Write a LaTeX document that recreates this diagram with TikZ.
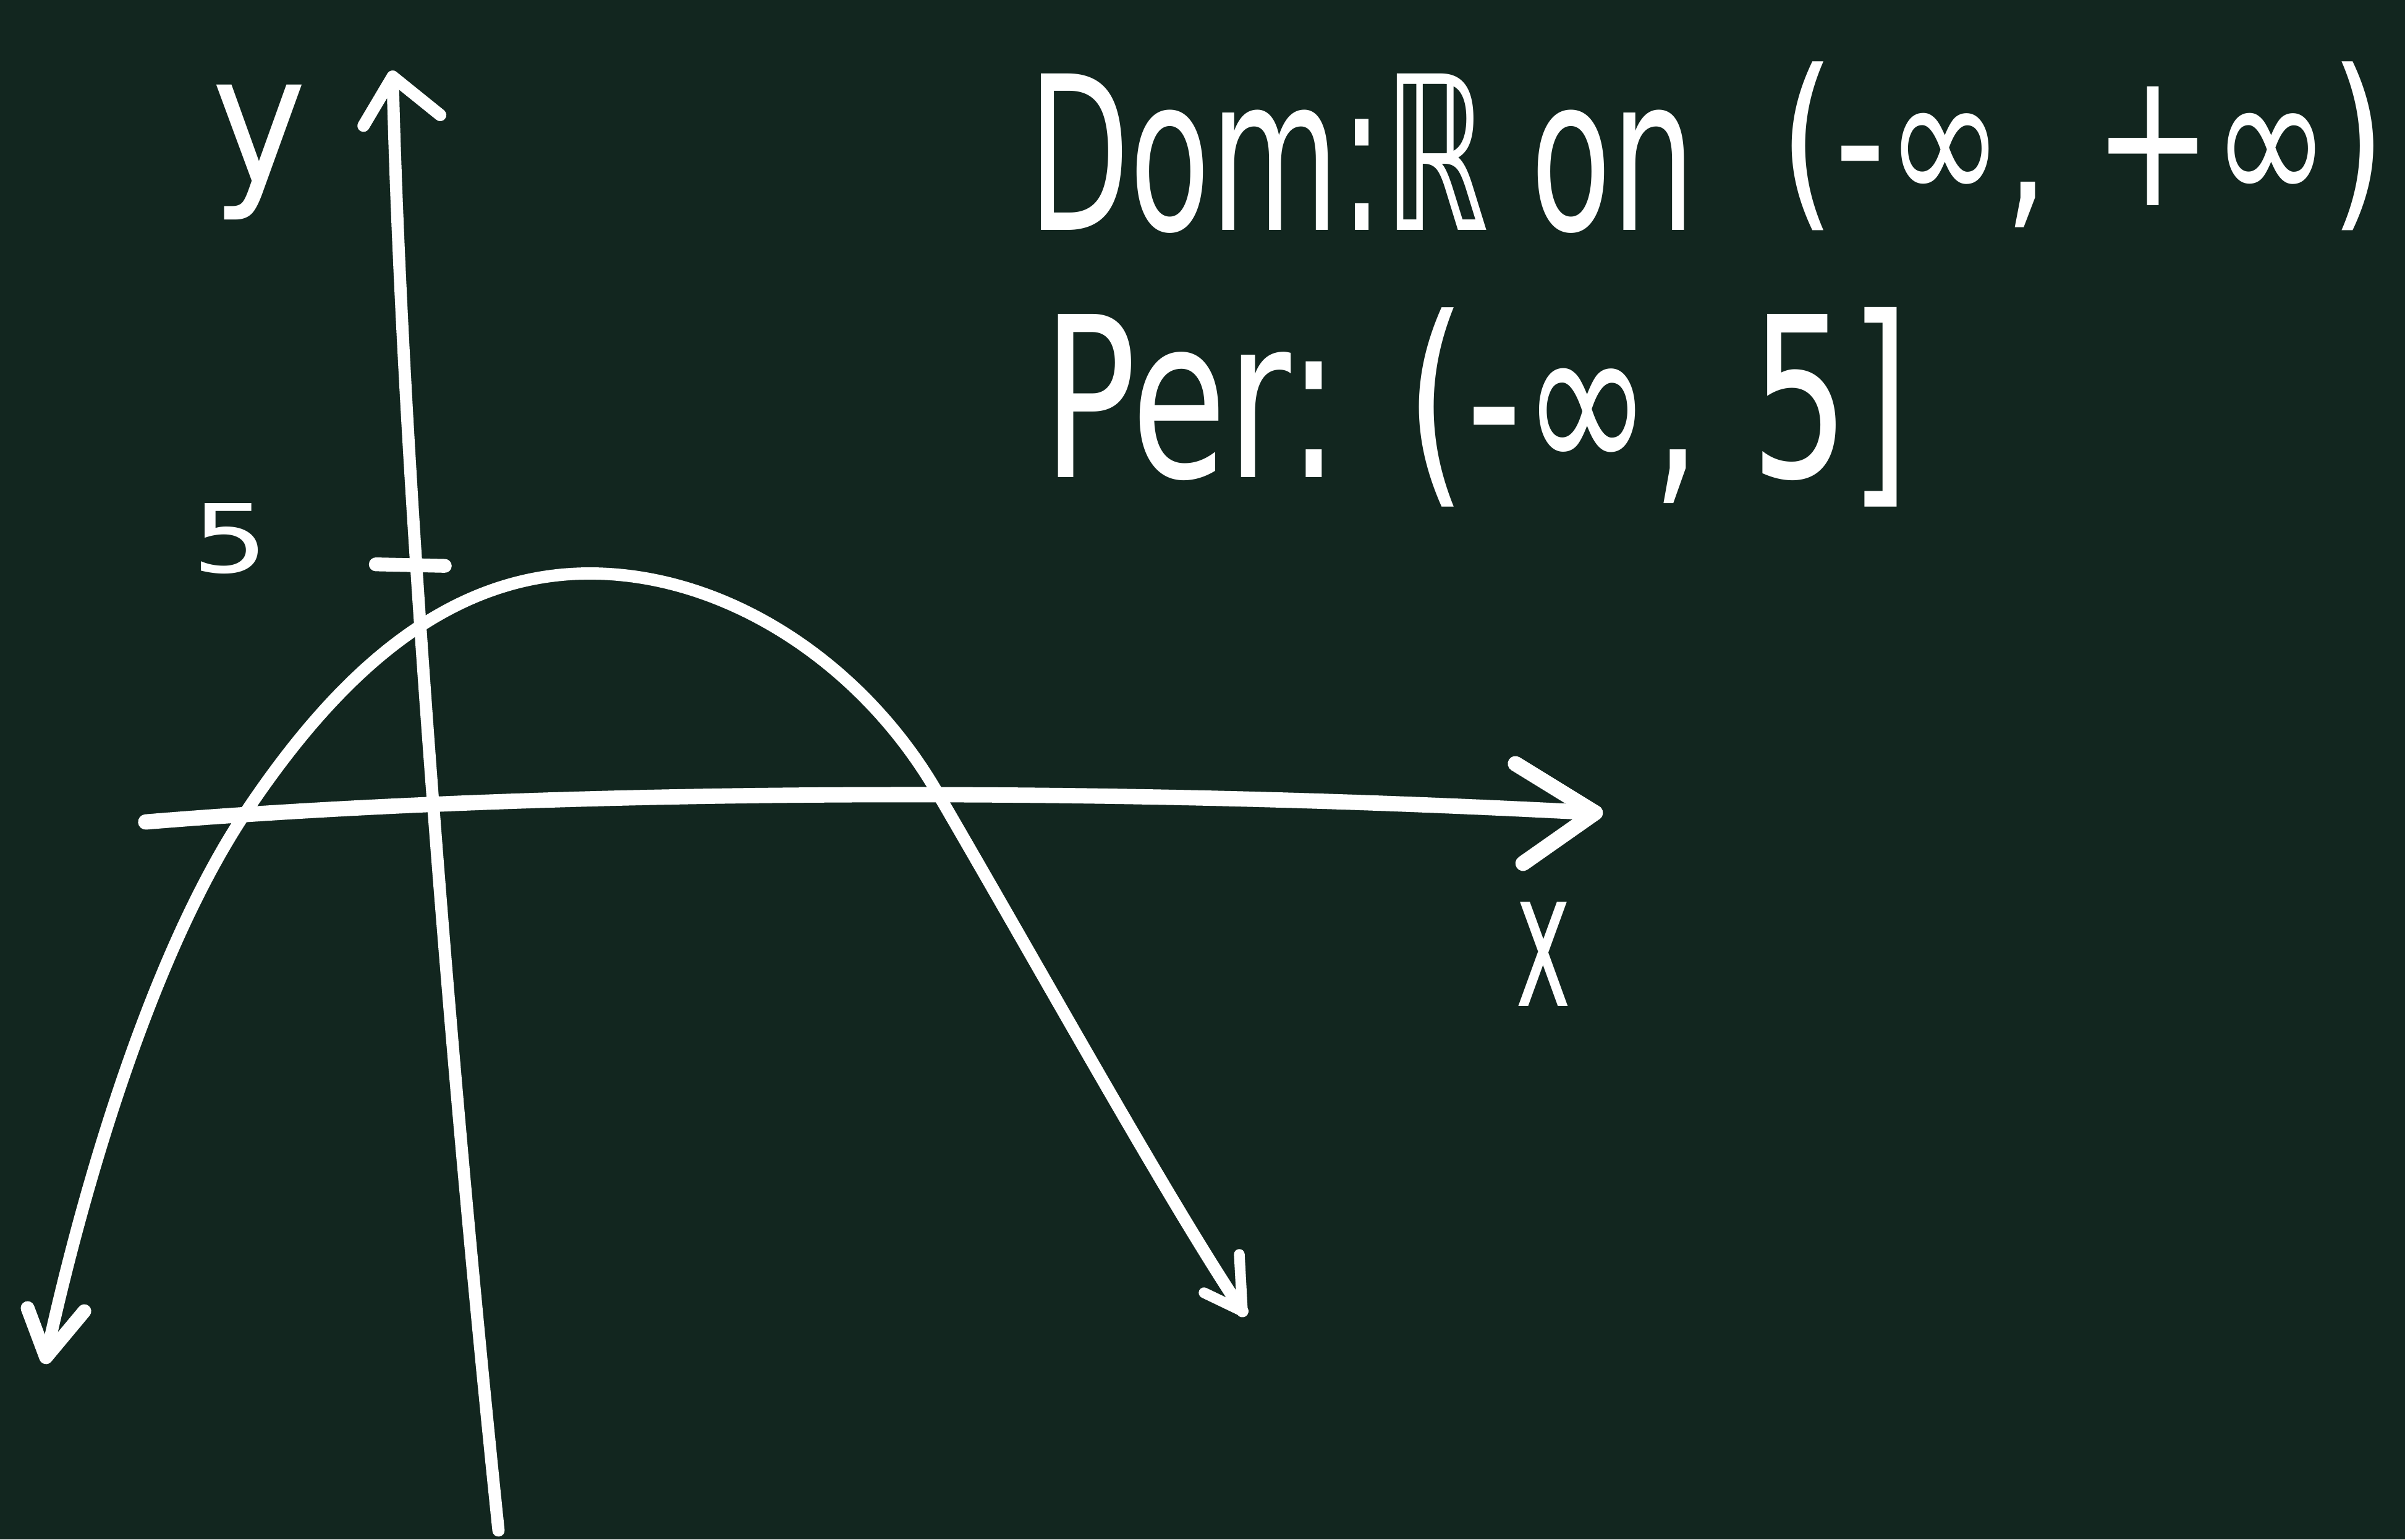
\documentclass[tikz,border=0pt]{standalone}
\usepackage{fontspec}
\setmainfont{DejaVu Sans}
\usepackage{graphicx}
\definecolor{board}{RGB}{18,38,31}
\begin{document}
\begin{tikzpicture}[x=1pt,y=-1pt,
  chalk/.style={draw=white,line width=8pt,line cap=round,line join=round},
  lbl/.style={text=white,inner sep=0pt,anchor=north west}]
\fill[board] (0,0) rectangle (1568,1004);
\useasboundingbox (0,0) rectangle (1568,1004);
% text
\node[lbl] (dom) at (670,48) {\resizebox*{435pt}{104pt}{Dom:ℝ on}};
\node[lbl] (domint) at (1160,40) {\resizebox*{395pt}{110pt}{(-∞, +∞)}};
\node[lbl] (per) at (680,200) {\resizebox*{565pt}{130pt}{Per: (-∞, 5]}};
\node[lbl] (ylab) at (138,55) {\resizebox*{62pt}{88pt}{y}};
\node[lbl] (xlab) at (988,588) {\resizebox*{36pt}{68pt}{x}};
\node[lbl] (five) at (125,328) {\resizebox*{50pt}{46pt}{5}};
% axes
\coordinate (ybot) at (325,998);
\coordinate (ytop) at (256,50);
\coordinate (yb1) at (237,82);
\coordinate (yb2) at (287,75);
\draw[chalk] (ybot) .. controls (293,690) and (262,300) .. (ytop);
\draw[chalk] (yb1) -- (ytop) -- (yb2);
\coordinate (xleft) at (95,536);
\coordinate (xright) at (1040,530);
\coordinate (xb1) at (988,498);
\coordinate (xb2) at (993,563);
\draw[chalk,line width=10pt] (xleft) .. controls (350,515) and (700,512) .. (xright);
\draw[chalk,line width=10pt] (xb1) -- (xright) -- (xb2);
% tick at 5
\coordinate (t1) at (245,368);
\coordinate (t2) at (290,369);
\draw[chalk,line width=9pt] (t1) -- (t2);
% parabola
\coordinate (pl) at (30,885);
\coordinate (pa) at (160,530);
\coordinate (pv) at (380,374);
\coordinate (pb) at (610,515);
\coordinate (pr) at (810,855);
\draw[chalk] (pl) .. controls (55,770) and (100,620) .. (pa)
  .. controls (220,440) and (290,376) .. (pv)
  .. controls (470,372) and (560,430) .. (pb)
  .. controls (680,635) and (760,780) .. (pr);
\coordinate (plb1) at (18,853);
\coordinate (plb2) at (55,855);
\draw[chalk,line width=9pt] (plb1) -- (pl) -- (plb2);
\coordinate (prb1) at (785,843);
\coordinate (prb2) at (808,818);
\draw[chalk,line width=7pt] (prb1) -- (pr) -- (prb2);
\end{tikzpicture}
\end{document}
